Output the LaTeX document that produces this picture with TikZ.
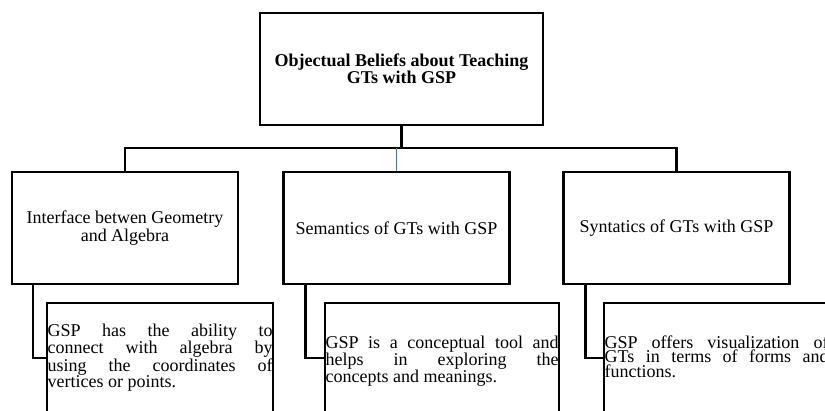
\documentclass[tikz,border=0pt]{standalone}
\usepackage{fontspec}
\setmainfont{Liberation Serif}
\usepackage[dvipsnames]{xcolor}
\definecolor{linkblue}{RGB}{68,114,196}

\begin{document}
\begin{tikzpicture}[x=1pt, y=-1pt, line width=2.2pt,
    topbox/.style={draw, inner sep=0pt, minimum width=283pt, minimum height=112pt, align=center, font=\fontsize{18}{17}\selectfont\bfseries},
    beliefbox/.style={draw, inner sep=0pt, minimum width=226pt, minimum height=112pt, align=center, font=\fontsize{18}{16}\selectfont},
    framebox/.style={draw, inner sep=0pt, minimum height=130pt, anchor=north west},
    detail/.style={inner sep=0pt, anchor=north west, align=justify, font=\fontsize{18}{14.5}\selectfont}]
    \useasboundingbox (0,0) rectangle (825,411);

    \node[topbox] (gsp) at (401.5,69) {Objectual Beliefs about Teaching\\GTs with GSP};

    \node[beliefbox] (iface) at (125,228) {Interface betwen Geometry\\and Algebra};
    \node[beliefbox] (sem) at (396.5,228) {Semantics of GTs with GSP};
    \node[beliefbox] (syn) at (676.5,228) {Syntatics of GTs with GSP};

    \node[framebox, minimum width=226pt] (ifaceframe) at (46,302) {};
    \node[framebox, minimum width=234pt] (semframe) at (324,302) {};
    \node[framebox, minimum width=225pt] (synframe) at (603,302) {};

    \node[detail, text width=225pt] (ifacetext) at (46.5,322.5) {GSP has the ability to\linebreak connect with algebra by\linebreak using the coordinates of\linebreak vertices or points.};
    \node[detail, text width=233pt] (semtext) at (324.5,334.5) {GSP is a conceptual tool and\linebreak helps in exploring the\linebreak concepts and meanings.};
    \node[detail, text width=224pt] (syntext) at (603.5,334.5) {GSP offers visualization of\linebreak GTs in terms of forms and\linebreak functions.};

    \coordinate (bus) at (401.5,148);
    \coordinate (tap) at (0,358);

    \draw (gsp.south) -- (bus);
    \draw (iface.north) |- (bus) -| (syn.north);
    \draw[linkblue, line width=0.9pt] (sem.north) -- (sem.north |- bus);

    \draw ([xshift=22pt]iface.south west) |- (ifaceframe.west |- tap);
    \draw ([xshift=23pt]sem.south west) |- (semframe.west |- tap);
    \draw ([xshift=23pt]syn.south west) |- (synframe.west |- tap);
\end{tikzpicture}
\end{document}
